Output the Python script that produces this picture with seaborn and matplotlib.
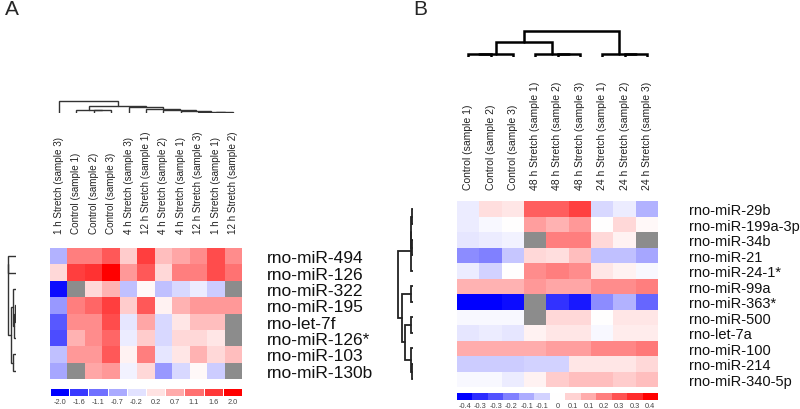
import numpy as np
import pandas as pd
import seaborn as sns
import matplotlib.pyplot as plt
from matplotlib.colors import LinearSegmentedColormap

sns.set_style("white")
plt.rcParams['font.family'] = ['Liberation Sans', 'DejaVu Sans']

# Panel A data
rows_a = ['rno-miR-494', 'rno-miR-126', 'rno-miR-322', 'rno-miR-195',
          'rno-let-7f', 'rno-miR-126*', 'rno-miR-103', 'rno-miR-130b']
cols_a = ['1 h Stretch (sample 3)', 'Control (sample 1)', 'Control (sample 2)',
          'Control (sample 3)', '4 h Stretch (sample 3)', '12 h Stretch (sample 1)',
          '4 h Stretch (sample 2)', '4 h Stretch (sample 1)', '12 h Stretch (sample 3)',
          '1 h Stretch (sample 1)', '12 h Stretch (sample 2)']
nan = np.nan
vals_a = [
    [-0.6, 1.0, 1.0, 1.3, 0.4, 1.5, 0.5, 0.7, 0.9, 1.4, 0.9],
    [0.3, 1.5, 1.6, 2.0, 0.8, 1.3, 0.3, 1.0, 1.0, 1.4, 1.1],
    [-1.9, nan, 0.3, 0.6, -0.5, 0.05, -0.5, -0.3, -0.15, -0.4, nan],
    [-0.8, 1.0, 1.2, 1.5, 0.4, 1.3, 0.1, 0.6, 0.8, 0.8, 0.8],
    [-1.3, 0.9, 0.9, 1.4, -0.2, 0.7, -0.3, 0.2, 0.5, 0.5, nan],
    [-1.4, 0.6, 0.9, 1.2, -0.15, 0.4, -0.3, 0.3, 0.3, 0.2, nan],
    [-0.5, 0.8, 0.8, 1.3, 0.1, 1.0, -0.2, 0.2, 0.6, 0.3, 0.5],
    [-0.7, nan, 0.7, 0.8, -0.1, 0.3, -0.8, -0.3, 0.05, -0.4, nan],
]
cbar_a_vals = [-2.0, -1.56, -1.11, -0.67, -0.22, 0.22, 0.67, 1.11, 1.56, 2.0]
cbar_a_labels = ['-2.0', '-1.6', '-1.1', '-0.7', '-0.2', '0.2', '0.7', '1.1', '1.6', '2.0']
# dendrogram merges (left, right, height)
col_tree_a = [(9, 10, 1), (8, 11, 1.5), (7, 12, 2.5), (6, 13, 3), (5, 14, 4.5),
              (4, 15, 6.5), (2, 3, 3), (1, 17, 3.5), (18, 16, 7), (0, 19, 12)]
row_tree_a = [(3, 4, 1.5), (5, 8, 2), (2, 9, 3), (6, 7, 3), (10, 11, 5),
              (0, 1, 8), (13, 12, 8.5)]

# Panel B data
rows_b = ['rno-miR-29b', 'rno-miR-199a-3p', 'rno-miR-34b', 'rno-miR-21',
          'rno-miR-24-1*', 'rno-miR-99a', 'rno-miR-363*', 'rno-miR-500',
          'rno-let-7a', 'rno-miR-100', 'rno-miR-214', 'rno-miR-340-5p']
cols_b = ['Control (sample 1)', 'Control (sample 2)', 'Control (sample 3)',
          '48 h Stretch (sample 1)', '48 h Stretch (sample 2)', '48 h Stretch (sample 3)',
          '24 h Stretch (sample 1)', '24 h Stretch (sample 2)', '24 h Stretch (sample 3)']
vals_b = [
    [-0.03, 0.05, 0.04, 0.25, 0.25, 0.30, -0.06, -0.03, -0.12],
    [-0.03, -0.01, 0.00, 0.15, 0.12, 0.16, 0.00, 0.06, 0.01],
    [-0.04, -0.03, -0.02, nan, 0.20, 0.20, 0.06, 0.02, nan],
    [-0.18, -0.20, -0.09, 0.06, 0.05, 0.10, -0.10, -0.10, -0.14],
    [-0.03, -0.07, 0.00, 0.18, 0.20, 0.18, 0.04, 0.02, -0.01],
    [0.12, 0.12, 0.12, 0.16, 0.14, 0.14, 0.18, 0.18, 0.20],
    [-0.40, -0.40, -0.38, nan, -0.32, -0.36, -0.18, -0.12, -0.24],
    [-0.01, -0.01, -0.01, nan, 0.06, 0.06, 0.00, 0.04, 0.04],
    [-0.04, -0.03, -0.04, 0.02, 0.04, 0.04, -0.01, 0.03, 0.03],
    [0.13, 0.13, 0.13, 0.13, 0.15, 0.15, 0.19, 0.19, 0.21],
    [-0.08, -0.08, -0.08, -0.07, -0.07, 0.04, 0.04, 0.04, 0.06],
    [-0.01, -0.01, -0.03, 0.02, 0.08, 0.10, 0.10, 0.08, 0.10],
]
cbar_b_vals = [-0.4, -0.33, -0.27, -0.2, -0.13, -0.07, 0, 0.07, 0.13, 0.2, 0.27, 0.33, 0.4]
cbar_b_labels = ['-0.4', '-0.3', '-0.3', '-0.2', '-0.1', '-0.1', '0',
                 '0.1', '0.1', '0.2', '0.3', '0.3', '0.4']
col_tree_b = [(0, 1, 3), (9, 2, 3.5), (4, 5, 3), (3, 11, 3.5), (7, 8, 3), (6, 13, 3.5),
              (10, 12, 15), (15, 14, 26)]
row_tree_b = [(0, 1, 1.5), (2, 3, 1.5), (12, 13, 2), (14, 4, 2.5), (5, 6, 2),
              (7, 8, 2), (10, 11, 1.5), (9, 18, 2), (17, 19, 8), (16, 20, 11),
              (15, 21, 15)]

W, H = 800, 410
cmap = LinearSegmentedColormap.from_list('bwr_ref', ['#0000ff', '#ffffff', '#ff0000'])
fig = plt.figure(figsize=(W / 100, H / 100), dpi=100)


def box(x0, y0, x1, y1):
    return fig.add_axes([x0 / W, 1 - y1 / H, (x1 - x0) / W, (y1 - y0) / H])


def draw_tree(ax, n, merges, side, top, lw, color):
    pos = {i: i + 0.5 for i in range(n)}
    hgt = {i: 0.0 for i in range(n)}
    for k, (a, b, h) in enumerate(merges):
        xs = [pos[a], pos[a], pos[b], pos[b]]
        ys = [hgt[a], h, h, hgt[b]]
        if side == 'top':
            ax.plot(xs, ys, color=color, lw=lw, solid_joinstyle='miter')
        else:
            ax.plot(ys, xs, color=color, lw=lw, solid_joinstyle='miter')
        pos[n + k] = (pos[a] + pos[b]) / 2
        hgt[n + k] = h
    if side == 'top':
        ax.set_xlim(0, n)
        ax.set_ylim(0, top)
    else:
        ax.set_ylim(n, 0)
        ax.set_xlim(top, 0)
    ax.set_axis_off()


def draw_heat(ax, vals, rows, cols, vmax, col_pad, col_size, row_pad, row_size):
    df = pd.DataFrame(vals, index=rows, columns=cols)
    sns.heatmap(df, ax=ax, cmap=cmap, vmin=-vmax, vmax=vmax, cbar=False,
                xticklabels=True, yticklabels=True)
    ax.set_facecolor('#8c8c8c')
    ax.tick_params(axis='x', top=True, bottom=False, labeltop=True, labelbottom=False,
                   length=0, pad=col_pad, labelsize=col_size, labelrotation=90,
                   labelcolor='#222222')
    ax.tick_params(axis='y', left=False, right=False, labelleft=False, labelright=True,
                   length=0, pad=row_pad, labelsize=row_size, labelrotation=0,
                   labelcolor='#111111')
    for t in ax.get_yticklabels():
        t.set_ha('left')
    ax.set_xlabel('')
    ax.set_ylabel('')


def draw_cbar(ax, vals, labels, vmax, lw):
    sns.heatmap(np.array([vals]), ax=ax, cmap=cmap, vmin=-vmax, vmax=vmax, cbar=False,
                xticklabels=labels, yticklabels=False, linewidths=lw, linecolor='white')
    ax.tick_params(axis='x', length=0, pad=1.5, labelsize=5.3, labelrotation=0,
                   labelcolor='#444444')


# Panel A
fig.text(5 / W, 1 - 19 / H, 'A', fontsize=15, ha='left', va='bottom')
ax = box(50, 249, 242, 380)
draw_heat(ax, vals_a, rows_a, cols_a, 2.0, 11, 7.1, 18, 12.5)
ax = box(50, 100, 242, 114)
draw_tree(ax, len(cols_a), col_tree_a, 'top', 14, 1.0, '#333333')
ax = box(4, 249, 16, 380)
draw_tree(ax, len(rows_a), row_tree_a, 'left', 12, 1.0, '#333333')
ax = box(50, 389, 242, 397)
draw_cbar(ax, cbar_a_vals, cbar_a_labels, 2.0, 0.6)

# Panel B
fig.text(413 / W, 1 - 19 / H, 'B', fontsize=15, ha='left', va='bottom')
ax = box(457, 202, 658, 388)
draw_heat(ax, vals_b, rows_b, cols_b, 0.4, 9, 7.5, 22, 10.5)
ax = box(457, 30, 658, 58)
draw_tree(ax, len(cols_b), col_tree_b, 'top', 28, 1.8, 'black')
ax = box(395, 202, 413, 388)
draw_tree(ax, len(rows_b), row_tree_b, 'left', 18, 1.3, '#222222')
ax = box(457, 394, 658, 401)
draw_cbar(ax, cbar_b_vals, cbar_b_labels, 0.4, 0)

fig.savefig('out.png', dpi=100)
